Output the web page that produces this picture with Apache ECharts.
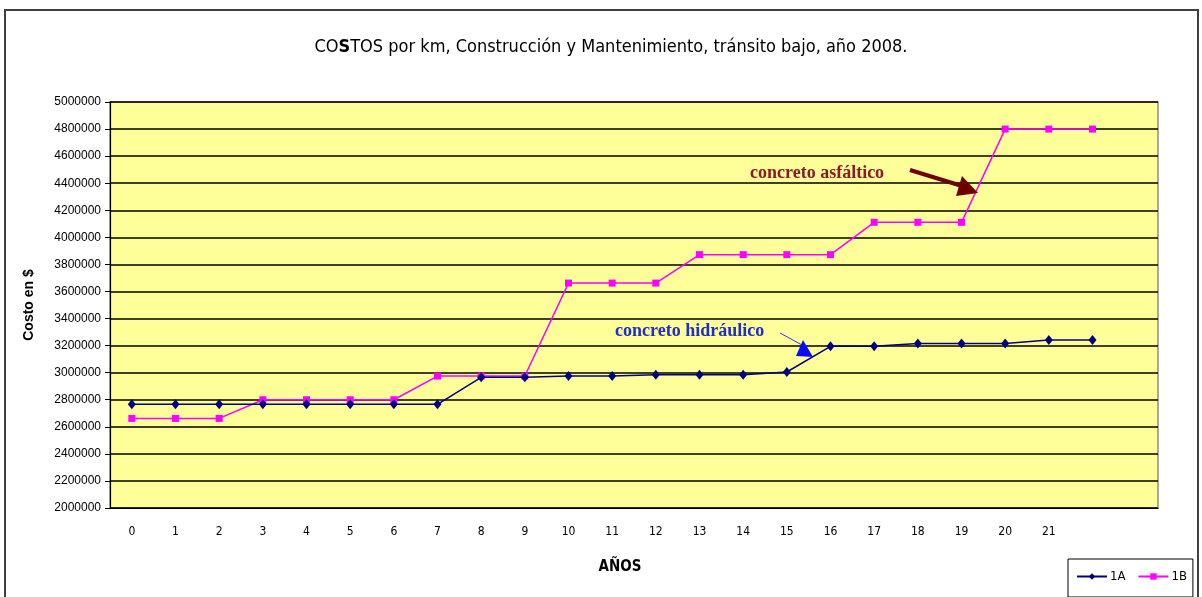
<!DOCTYPE html>
<html>
<head>
<meta charset="utf-8">
<script src="https://cdn.jsdelivr.net/npm/echarts@6/dist/echarts.min.js"></script>
<style>
  html, body { margin: 0; padding: 0; background: #fff; }
  #main { width: 1202px; height: 597px; }
</style>
</head>
<body>
<div id="main"></div>
<script>
// años (the last two slots are empty in the original sheet)
const years = ["0", "1", "2", "3", "4", "5", "6", "7", "8", "9", "10", "11",
  "12", "13", "14", "15", "16", "17", "18", "19", "20", "21", "", ""];

// 1A - concreto hidráulico
const costo1A = [2766000, 2766000, 2766000, 2766000, 2766000, 2766000, 2766000, 2766000,
  2966000, 2966000, 2975000, 2975000, 2985000, 2985000, 2985000, 3005000,
  3195000, 3195000, 3215000, 3215000, 3215000, 3242000, 3242000, null];

// 1B - concreto asfáltico
const costo1B = [2662000, 2662000, 2662000, 2800000, 2800000, 2800000, 2800000, 2975000,
  2975000, 2975000, 3662000, 3662000, 3662000, 3872000, 3872000, 3872000,
  3872000, 4111000, 4111000, 4111000, 4800000, 4800000, 4800000, null];

const narrow = '"Liberation Sans Narrow", "DejaVu Sans Condensed", "Liberation Sans", sans-serif';
const serif = '"Liberation Serif", "DejaVu Serif", serif';

let chartDom = document.getElementById("main");
let myChart = echarts.init(chartDom);
let option;
option = {
  animation: false,
  title: {
    text: "CO{b|S}TOS por km, Construcción y Mantenimiento, tránsito bajo, año 2008.",
    left: 606,
    top: 33,
    textAlign: "center",
    textStyle: {
      fontFamily: narrow,
      fontSize: 18,
      fontWeight: "normal",
      color: "#000",
      rich: {
        b: { fontFamily: narrow, fontSize: 18, fontWeight: "bold", color: "#000" },
      },
    },
  },
  legend: {
    left: 1068,
    top: 559,
    orient: "horizontal",
    padding: [11, 6, 14, 8],
    itemGap: 12,
    itemWidth: 30,
    itemHeight: 8,
    borderColor: "#000",
    borderWidth: 1,
    backgroundColor: "#fff",
    textStyle: { fontFamily: narrow, fontSize: 13, color: "#000", padding: [0, 0, 0, -2] },
    data: ["1A", "1B"],
  },
  grid: {
    left: 110,
    top: 102,
    width: 1048,
    height: 406,
    show: true,
    backgroundColor: "#FFFF99",
    borderColor: "#8c8c8c",
    borderWidth: 1.5,
  },
  xAxis: {
    type: "category",
    data: years,
    boundaryGap: true,
    name: "AÑOS",
    nameLocation: "middle",
    nameGap: 52,
    nameTextStyle: {
      fontFamily: narrow,
      fontSize: 15,
      fontWeight: "bold",
      color: "#000",
      padding: [0, 28, 0, 0],
    },
    axisLine: { lineStyle: { color: "#000", width: 1.2 } },
    axisTick: { interval: 0, length: 5, lineStyle: { color: "#000" } },
    axisLabel: {
      interval: 0,
      margin: 18,
      fontFamily: narrow,
      fontSize: 12,
      color: "#000",
    },
    splitLine: { show: false },
  },
  yAxis: {
    type: "value",
    min: 2000000,
    max: 5000000,
    interval: 200000,
    name: "Costo en $",
    nameLocation: "middle",
    nameGap: 74,
    nameTextStyle: {
      fontFamily: '"Liberation Sans", Arial, sans-serif',
      fontSize: 14,
      fontWeight: "bold",
      color: "#000",
    },
    axisLine: { show: true, lineStyle: { color: "#000", width: 1.2 } },
    axisTick: { show: true, length: 5, lineStyle: { color: "#000" } },
    axisLabel: {
      margin: 9,
      fontFamily: '"Liberation Sans", Arial, sans-serif',
      fontSize: 12,
      color: "#000",
      formatter: (v) => String(v),
    },
    splitLine: { lineStyle: { color: "#000", width: 1.5 } },
  },
  series: [
    {
      name: "1A",
      type: "line",
      data: costo1A,
      symbol: "diamond",
      symbolSize: [8, 10],
      z: 3,
      itemStyle: { color: "#000080" },
      lineStyle: { color: "#000080", width: 1.5 },
    },
    {
      name: "1B",
      type: "line",
      data: costo1B,
      symbol: "rect",
      symbolSize: 7,
      z: 2,
      itemStyle: { color: "#FF00FF" },
      lineStyle: { color: "#FF00FF", width: 1.5 },
    },
  ],
  graphic: [
    {
      type: "rect",
      silent: true,
      z: -1,
      shape: { x: 5, y: 10, width: 1193, height: 620 },
      style: { fill: null, stroke: "#404040", lineWidth: 2 },
    },
    {
      type: "text",
      left: 615,
      top: 322,
      z: 10,
      style: {
        text: "concreto hidráulico",
        font: "bold 18px " + serif,
        fill: "#1f2fcc",
      },
    },
    {
      type: "line",
      z: 10,
      shape: { x1: 780, y1: 333, x2: 802, y2: 345 },
      style: { stroke: "#2b3be0", lineWidth: 1 },
    },
    {
      type: "polygon",
      z: 10,
      shape: { points: [[803, 340], [796, 356], [813, 357]] },
      style: { fill: "#0a0aff" },
    },
    {
      type: "text",
      left: 750,
      top: 164,
      z: 10,
      style: {
        text: "concreto asfáltico",
        font: "bold 18px " + serif,
        fill: "#8b1a2b",
      },
    },
    {
      type: "line",
      z: 10,
      shape: { x1: 910, y1: 170, x2: 962, y2: 186 },
      style: { stroke: "#6e0000", lineWidth: 4 },
    },
    {
      type: "polygon",
      z: 10,
      shape: { points: [[962, 176], [956, 196], [978, 193]] },
      style: { fill: "#6e0000" },
    },
  ],
};
myChart.setOption(option);
</script>
</body>
</html>
